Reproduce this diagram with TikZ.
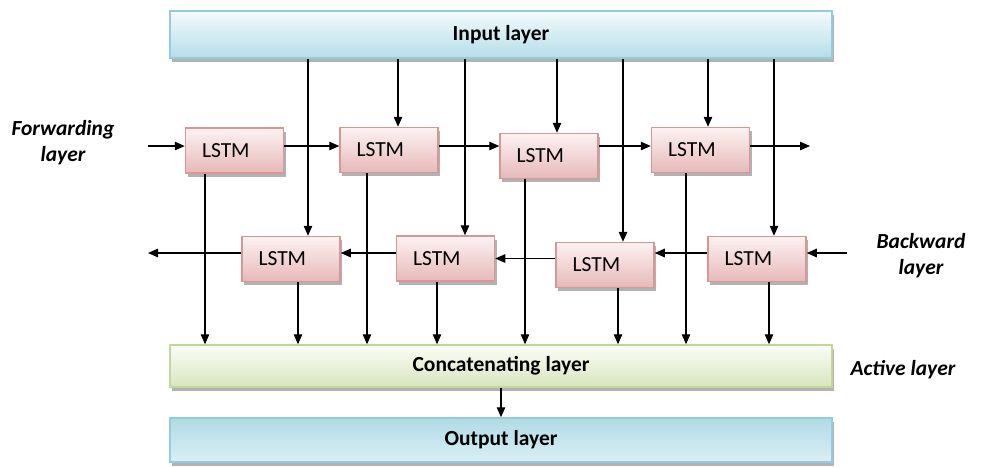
\documentclass[tikz,border=0pt]{standalone}
\usepackage{fontspec}
\setmainfont{Carlito}
\usetikzlibrary{arrows.meta,shadows}

\definecolor{bluetop}{HTML}{F4FBFD}
\definecolor{bluebot}{HTML}{B5DDE8}
\definecolor{blueline}{HTML}{93CDDD}
\definecolor{pinktop}{HTML}{FDF2F2}
\definecolor{pinkbot}{HTML}{E6B9B8}
\definecolor{pinkline}{HTML}{D99694}
\definecolor{greentop}{HTML}{FBFDF6}
\definecolor{greenbot}{HTML}{D8E5BF}
\definecolor{greenline}{HTML}{C3D69B}

\newcommand\figfont{\fontsize{21.5}{26}\selectfont}

\begin{document}
\begin{tikzpicture}[x=1pt, y=-1pt, >={Triangle[length=10pt,width=8.5pt]},
      line width=1.2pt, font=\figfont,
      shade/.style={drop shadow={shadow xshift=2pt, shadow yshift=-3.5pt, fill=black, opacity=.3}},
      lstm/.style={shade, draw=pinkline, line width=1.5pt, top color=pinktop, bottom color=pinkbot,
                   minimum height=45pt, text width=65pt, inner xsep=16.5pt, align=left},
      layer/.style={shade, draw=blueline, line width=1.5pt, minimum width=662pt, font=\figfont\bfseries},
      side/.style={align=center, font=\figfont\bfseries\itshape}]
  \useasboundingbox (0,0) rectangle (981,467);

  % layers
  \node[layer, top color=bluetop, bottom color=bluebot, minimum height=47pt] (inp) at (501,34.5) {Input layer};
  \node[layer, draw=greenline, top color=greentop, bottom color=greenbot, minimum height=42pt] (cat) at (501,366) {Concatenating layer};
  \node[layer, top color=bluebot!85!blueline, bottom color=bluetop!60!bluebot, minimum height=44pt] (out) at (501,440) {Output layer};

  % forward cells
  \node[lstm] (f1) at (234.5,150.5) {LSTM};
  \node[lstm] (f2) at (389,150)     {LSTM};
  \node[lstm] (f3) at (549,156)     {LSTM};
  \node[lstm] (f4) at (700.5,150)   {LSTM};
  % backward cells
  \node[lstm] (b1) at (291,259)     {LSTM};
  \node[lstm] (b2) at (445.5,258.5) {LSTM};
  \node[lstm] (b3) at (605,265)     {LSTM};
  \node[lstm] (b4) at (757,259)     {LSTM};

  \node[side] (fwd) at (63,143)  {Forwarding\\layer};
  \node[side] (bwd) at (921,256) {Backward\\layer};
  \node[side] (act) at (903,370) {Active layer};

  \coordinate (fin)  at (148,146);
  \coordinate (fout) at (810,146);
  \coordinate (bin)  at (847,253);
  \coordinate (bout) at (148,253);

  % forward chain
  \draw[->] (fin) -- (fin -| f1.west);
  \draw[->] (f1.east |- fin) -- (f2.west |- fin);
  \draw[->] (f2.east |- fin) -- (f3.west |- fin);
  \draw[->] (f3.east |- fin) -- (f4.west |- fin);
  \draw[->] (f4.east |- fin) -- (fout);
  % backward chain
  \draw[->] (bin) -- (bin -| b4.east);
  \draw[->] (b4.west |- bin) -- (b3.east |- bin);
  \draw[->] (b3.west |- b2.east) -- (b2.east);
  \draw[->] (b2.west |- bin) -- (b1.east |- bin);
  \draw[->] (b1.west |- bin) -- (bout);

  % inputs into the cells
  \foreach \x/\t in {308/b1, 398/f2, 465/b2, 557/f3, 623/b3, 708/f4, 774/b4}
    \draw[->] (inp.south -| \x,0) -- (\t.north -| \x,0);
  % cell outputs
  \foreach \x/\t in {205/f1, 298/b1, 367/f2, 437/b2, 525/f3, 618/b3, 686/f4, 769/b4}
    \draw[->] (\t.south -| \x,0) -- (cat.north -| \x,0);

  \draw[->] (cat.south) -- (out.north);
\end{tikzpicture}
\end{document}
